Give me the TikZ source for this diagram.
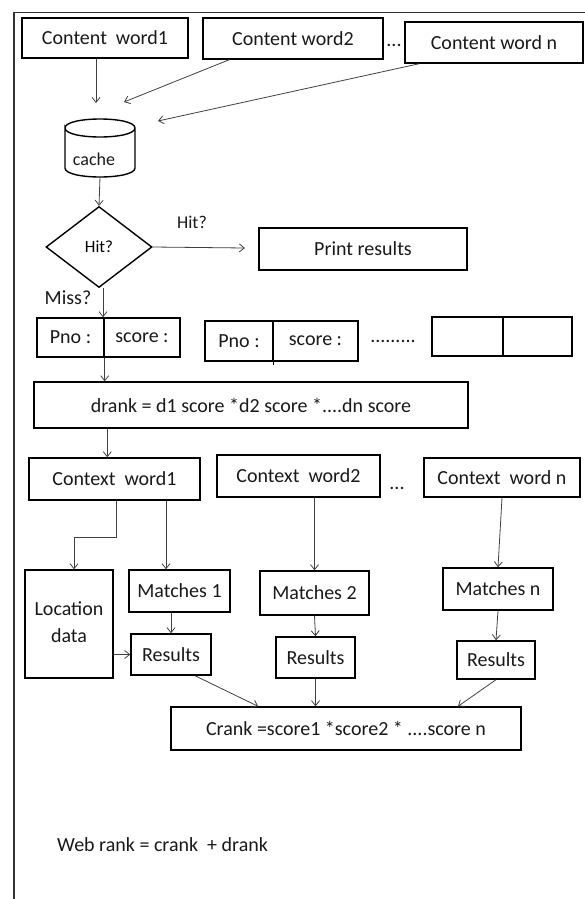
\documentclass[tikz,border=0pt]{standalone}
\usepackage{fontspec}
\setmainfont{Carlito}
\usetikzlibrary{arrows.meta,shapes.geometric}
\newcommand\bx[6]{\node[box, minimum width={#4-#2}, minimum height={#5-#3}] (#1) at ({(#2+#4)/2},{(#3+#5)/2}) {#6};}
\begin{document}
\begin{tikzpicture}[x=1pt,y=-1pt,
  txt/.style={font=\fontsize{20}{23}\selectfont, text=black!90},
  box/.style={draw, line width=1.4pt, inner sep=0pt, txt},
  arr/.style={-{Straight Barb[length=5pt,width=8pt]}, line width=0.8pt, draw=black!75},
  lbl/.style={txt, inner sep=0pt}]
\useasboundingbox (0,0) rectangle (585,899);
% frame
\draw[line width=1.6pt, draw=black!80] (14,899) -- (14,12.5) -- (585,12.5);
% content words
\bx{cw1}{22}{18}{188}{58}{Content\ \ word1}
\bx{cw2}{203}{18}{383}{59}{Content word2}
\node[lbl] (dots1) at (394,45) {...};
\bx{cwn}{405}{22}{583}{63}{Content word n}
\coordinate (e1) at (96,103);
\coordinate (e2) at (124,102);
\coordinate (e3) at (158,121);
\draw[arr] (cw1.south -| e1) -- (e1);
\draw[arr] ([xshift=27pt]cw2.south west) -- (e2);
\draw[arr] ([xshift=15pt]cwn.south west) -- (e3);
% cache
\node[inner sep=0pt, minimum width=70, minimum height=58] (cache) at (100,148) {};
\draw[line width=1.4pt] (65,128) .. controls (65,116) and (135,116) .. (135,128)
  .. controls (135,140) and (65,140) .. (65,128) -- (65,168)
  .. controls (65,180) and (135,180) .. (135,168) -- (135,128);
\node[lbl, font=\fontsize{18}{20}\selectfont] (cachet) at (94,159) {cache};
% decision
\node[draw, diamond, line width=1.4pt, minimum width=106, minimum height=81, inner sep=0pt,
  font=\fontsize{17}{20}\selectfont] (hit) at (99,247) {Hit?};
\draw[arr] (cache.south) -- (hit.north);
\node[lbl, font=\fontsize{18}{20}\selectfont] (hitl) at (192,222) {Hit?};
\coordinate (e4) at (245,248);
\draw[arr] (hit.east) -- (e4);
\bx{print}{259}{228}{467}{270}{Print results}
\node[lbl] (miss) at (68,298) {Miss?};
% pno boxes
\bx{p1a}{37}{318}{104}{357}{Pno :}
\bx{p1b}{104}{318}{180}{357}{score :}
\bx{p2a}{205}{321}{273}{361}{Pno :}
\bx{p2b}{273}{321}{358}{361}{score :}
\draw[line width=0.8pt] (p2a.south east) -- ++(0,3);
\node[lbl] (dots2) at (393,341) {.........};
\bx{p3a}{432}{317}{503}{356}{}
\bx{p3b}{503}{317}{572}{356}{}
\draw[arr] ([xshift=4pt]hit.south) -- ([xshift=4pt]hit.south |- p1a.north);
% drank
\bx{drank}{34}{382}{468}{428}{drank = d1 score *d2 score *....dn score}
\draw[arr] (p1a.south east) -- (p1a.south east |- drank.north);
% context words
\bx{ctx1}{29}{458}{200}{500}{Context\ \ word1}
\bx{ctx2}{217}{455}{380}{497}{Context\ \ word2}
\node[lbl] (dots3) at (397,488) {...};
\bx{ctxn}{424}{458}{580}{497}{Context\ \ word n}
\draw[arr] ([xshift=74pt]drank.south west) -- ([xshift=74pt]drank.south west |- ctx1.north);
% matches / location
\bx{loc}{25}{570}{113}{678}{\raisebox{-5pt}{\begin{tabular}{@{}c@{}}Location\\[4pt]data\end{tabular}}}
\bx{m1}{129}{570}{230}{612}{Matches 1}
\bx{m2}{260}{571}{369}{615}{Matches 2}
\bx{mn}{443}{568}{553}{610}{Matches n}
\draw[arr] ([xshift=1.5pt]ctx1.south) -- ++(0,37) -| ([xshift=5pt]loc.north);
\draw[arr] ([xshift=51.5pt]ctx1.south) -- ([xshift=51.5pt]ctx1.south |- m1.north);
\draw[arr] (ctx2.south -| m2.north) -- (m2.north);
\draw[arr] (ctxn.south) -- (mn.north);
% results
\bx{r1}{131}{634}{211}{675}{Results}
\bx{r2}{276}{637}{355}{678}{Results}
\bx{rn}{457}{641}{535}{679}{Results}
\draw[arr] (r1.north |- m1.south) -- (r1.north);
\draw[arr] (loc.east |- r1.west) -- (r1.west);
\draw[arr] (m2.south) -- (r2.north);
\draw[arr] (mn.south) -- (rn.north);
% crank
\bx{crank}{171}{707}{521}{750}{Crank =score1 *score2 * ....score n}
\draw[arr] ([xshift=24pt]r1.south) -- ([xshift=-88pt]crank.north);
\draw[arr] (r2.south) -- (r2.south |- crank.north);
\draw[arr] (rn.south) -- ([xshift=112pt]crank.north);
% web rank
\node[lbl, anchor=west] (web) at (57,845) {Web rank = crank\ \ + drank};
\end{tikzpicture}
\end{document}
